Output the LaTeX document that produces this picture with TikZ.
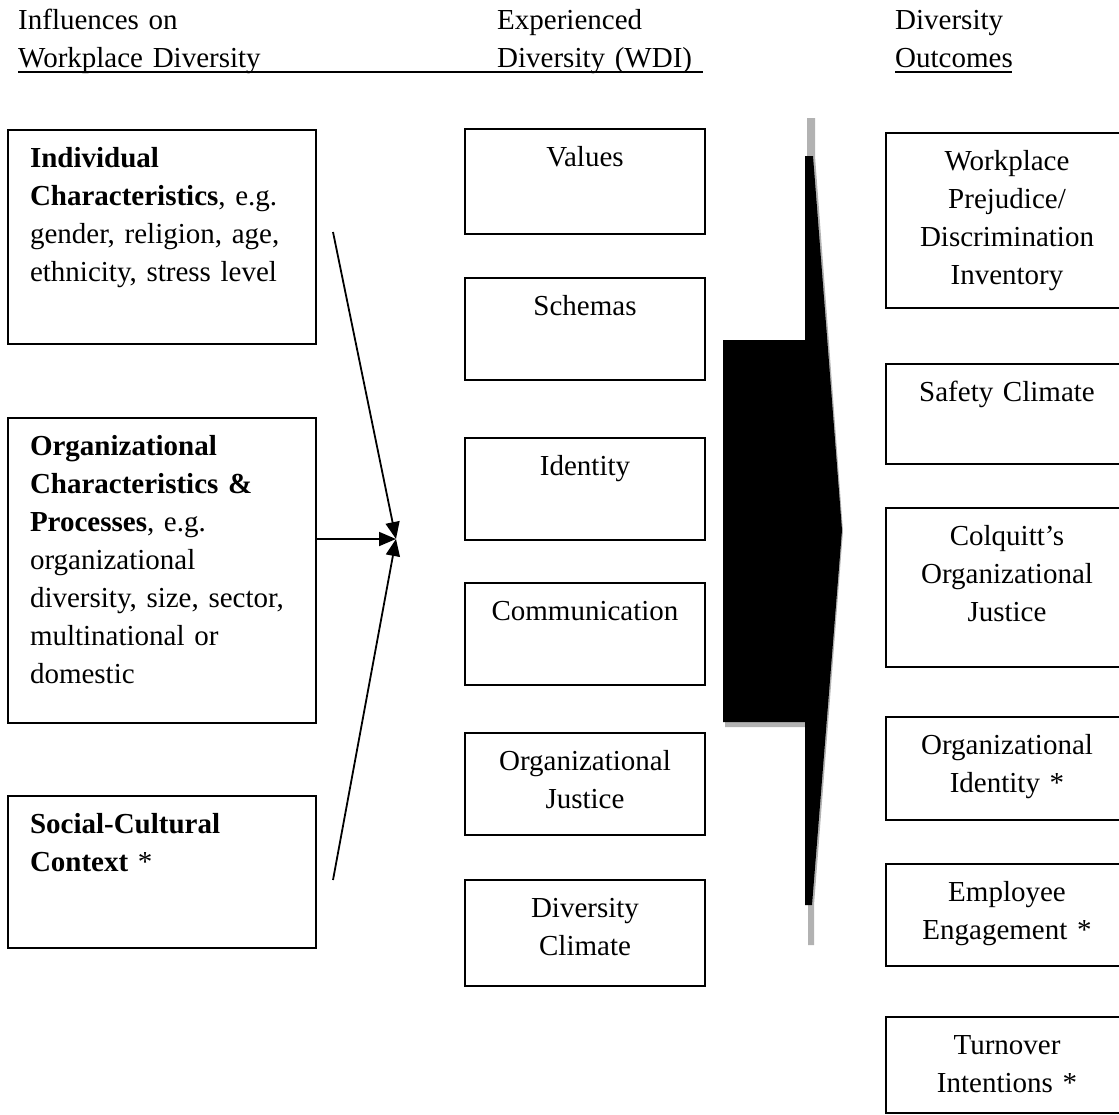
\documentclass[tikz,border=0pt]{standalone}
\usepackage{fontspec}
\setmainfont{Liberation Serif}
\usetikzlibrary{arrows.meta}
\colorlet{ArrowShadow}{black!30}

\tikzset{
  box/.style={draw, line width=1.8pt, inner ysep=0pt, text height=38pt, anchor=north},
  leftbox/.style={box, text width=264pt, inner xsep=22pt, align=left},
  midbox/.style={box, text width=230pt, inner xsep=5pt, align=center},
  outbox/.style={box, text width=232pt, inner xsep=5pt, align=center},
  header/.style={anchor=base west, inner sep=0pt, text width=260pt, align=left},
  influence/.style={line width=1.8pt, -{Triangle[length=17pt,width=14pt]}}
}

\begin{document}
\begin{tikzpicture}[x=1pt, y=-1pt, font=\fontsize{29pt}{38pt}\selectfont]

\useasboundingbox (0,0) rectangle (1119,1114);
\clip (0,0) rectangle (1119,1114);

% Titulos de las columnas
\node (headA) [header] at (18,29) {Influences on\\Workplace Diversity};
\node (headB) [header] at (497,29) {Experienced\\Diversity (WDI)};
\node (headC) [header] at (895,29) {Diversity\\Outcomes};
\draw[line width=1.5pt] (18,72) -- (703,72);
\draw[line width=1.5pt] (895,72) -- (1012,72);

% Influencias
\node (indiv) [leftbox, text depth=176pt] at (162,129)
  {\textbf{Individual}\\\textbf{Characteristics}, e.g.\\gender, religion, age,\\ethnicity, stress level};
\node (orgchar) [leftbox, text depth=267pt] at (162,417)
  {\textbf{Organizational}\\\textbf{Characteristics \&}\\\textbf{Processes}, e.g.\\organizational\\diversity, size, sector,\\multinational or\\domestic};
\node (social) [leftbox, text depth=114pt] at (162,795)
  {\textbf{Social-Cultural}\\\textbf{Context} *};

% Diversidad experimentada
\node (values) [midbox, text depth=67pt] at (585,128) {Values};
\node (schemas) [midbox, text depth=64pt] at (585,277) {Schemas};
\node (identity) [midbox, text depth=64pt] at (585,437) {Identity};
\node (commun) [midbox, text depth=64pt] at (585,582) {Communication};
\node (orgjust) [midbox, text depth=64pt] at (585,732) {Organizational\\Justice};
\node (divclim) [midbox, text depth=68pt] at (585,879) {Diversity\\Climate};

% Resultados
\node (prejud) [outbox, text depth=137pt] at (1007,132)
  {Workplace\\Prejudice/\\Discrimination\\Inventory};
\node (safety) [outbox, text depth=62pt] at (1007,363) {Safety Climate};
\node (colquitt) [outbox, text depth=121pt] at (1007,507)
  {Colquitt's\\Organizational\\Justice};
\node (orgident) [outbox, text depth=65pt] at (1007,716)
  {Organizational\\Identity *};
\node (engage) [outbox, text depth=64pt] at (1007,863)
  {Employee\\Engagement *};
\node (turnover) [outbox, text depth=58pt] at (1007,1016)
  {Turnover\\Intentions *};

% Flechas que convergen
\coordinate (hub) at (396,539);
\coordinate (indivEnd) at (333,232);
\coordinate (socialEnd) at (333,880);
\draw[influence] (indivEnd) -- (hub);
\draw[influence] (orgchar.east |- hub) -- (hub);
\draw[influence] (socialEnd) -- (hub);

% Flecha grande (sombra y luego negro)
\fill[ArrowShadow] (807,118) -- (815,118) -- (815,156) -- (843,531) -- (814,905)
  -- (814,945) -- (808,945) -- (808,727) -- (725,727) -- (725,342) -- (807,342) -- cycle;
\fill[black] (805,156) -- (813,156) -- (842,530) -- (812,905) -- (805,905)
  -- (805,722) -- (723,722) -- (723,340) -- (805,340) -- cycle;

\end{tikzpicture}
\end{document}
